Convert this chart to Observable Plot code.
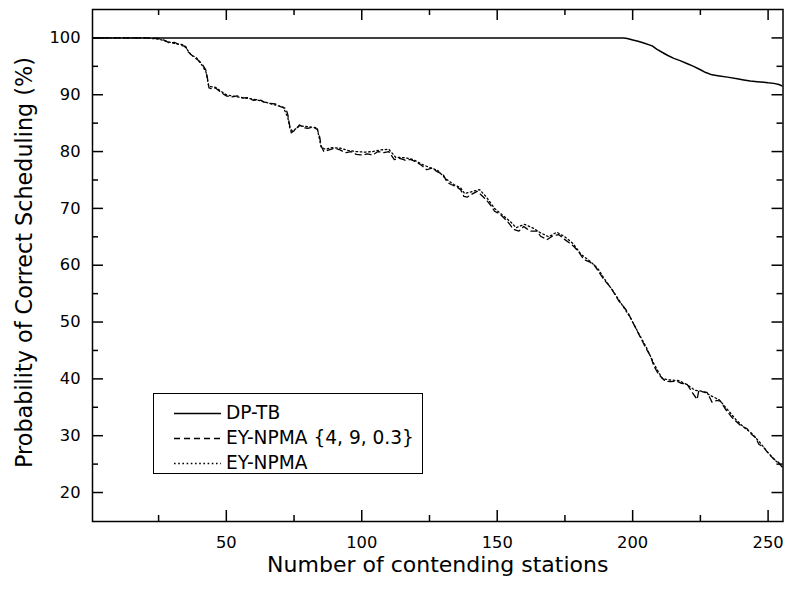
<!DOCTYPE html>
<html>
<head>
<meta charset="utf-8">
<script src="https://cdn.jsdelivr.net/npm/d3@7"></script>
<script src="https://cdn.jsdelivr.net/npm/@observablehq/plot@0.6"></script>
<style>
  html, body { margin: 0; padding: 0; background: #fff; }
  #wrap { position: relative; width: 787px; height: 590px; font-family: "DejaVu Sans", sans-serif; color: #000; }
  #legend { position: absolute; left: 153px; top: 393px; width: 270px; height: 81px; border: 1.2px solid #000; box-sizing: border-box; background: #fff; }
  .row { position: absolute; left: 0; height: 24px; width: 100%; }
  .row svg { position: absolute; left: 19px; top: 0; }
  .row span { position: absolute; left: 72px; top: 0; line-height: 24px; font-size: 18.6px; white-space: nowrap; }
</style>
</head>
<body>
<div id="wrap">
  <div id="chart"></div>
  <div id="legend"></div>
</div>
<script>
// ---- data ----
const dptbX = [1, 190, 196.7, 198, 200.4, 202, 204.1, 207.2, 209, 211.5, 213, 215.2, 217.5, 220, 222.5, 225, 227, 229.3, 232, 235, 238.6, 241, 243.4, 246, 248.4, 250, 252.1, 254, 255.5];
const dptbY = [100, 100, 100, 99.9, 99.6, 99.4, 99.1, 98.6, 98.0, 97.3, 96.9, 96.4, 96.0, 95.5, 95.0, 94.4, 93.9, 93.5, 93.3, 93.1, 92.8, 92.6, 92.4, 92.3, 92.2, 92.1, 92.0, 91.8, 91.5];

const eyParamX = [1, 10, 20, 25, 27, 29, 31, 33, 35, 36, 38, 39.5, 41, 42.5, 43, 43.6, 45, 46, 48, 50, 52, 54, 56, 58, 60, 62, 64, 66, 68, 70, 72, 72.7, 73.3, 74, 75.5, 77, 78.5, 80, 82, 83.6, 84.5, 85, 86, 88, 90, 92, 94, 96, 98, 100, 102, 104, 106, 108, 110, 112, 114, 116, 118, 120, 122, 124, 126, 128, 130, 131.5, 133, 135, 136.5, 137.7, 139, 141, 142.6, 144, 146, 148, 149, 151, 152.5, 154, 156, 158, 159.8, 161, 162.5, 164.8, 166, 168.4, 170.3, 172.7, 175, 177, 178.3, 180, 182, 184, 185.7, 187, 189.3, 191, 192.4, 194.9, 196.5, 198, 199.8, 201.7, 203.5, 205, 206.6, 207.8, 209.6, 212, 214, 216.4, 218, 220, 222, 223.8, 224.4, 226, 227.5, 229.3, 231, 232.4, 234.2, 236.7, 238, 239.8, 242.3, 244, 245.3, 246.6, 248.4, 250.2, 252.1, 253.9, 255.5];
const eyParamY = [100, 100, 100, 99.9, 99.6, 99.1, 99.2, 98.7, 98.5, 97.5, 96.6, 96.1, 95.5, 94.3, 93.0, 91.2, 91.0, 91.2, 90.4, 89.8, 89.6, 89.8, 89.4, 89.5, 89.0, 89.2, 88.7, 88.5, 88.4, 87.9, 87.6, 86.5, 84.8, 83.3, 83.8, 84.7, 84.2, 84.1, 84.3, 83.9, 82.5, 81.0, 80.0, 80.3, 80.6, 80.3, 79.8, 80.0, 79.5, 79.4, 79.6, 79.4, 80.0, 79.8, 80.0, 78.6, 78.8, 78.5, 78.6, 78.2, 77.6, 76.8, 77.1, 76.4, 76.0, 74.6, 74.2, 73.8, 73.3, 72.1, 72.0, 72.6, 73.0, 72.4, 71.5, 70.3, 69.5, 69.0, 68.3, 67.6, 66.3, 66.0, 66.8, 66.4, 66.0, 66.0, 65.1, 64.5, 65.1, 65.4, 64.5, 63.8, 63.3, 62.4, 61.0, 60.6, 60.1, 59.2, 57.5, 56.6, 55.7, 53.7, 52.8, 51.9, 50.2, 48.4, 46.7, 45.3, 44.0, 42.3, 40.8, 39.6, 39.5, 39.6, 39.2, 39.1, 37.6, 36.4, 37.9, 37.7, 37.6, 35.9, 36.2, 36.1, 34.7, 33.2, 32.6, 31.8, 31.2, 30.2, 29.7, 28.5, 27.9, 26.8, 25.9, 25.3, 24.2];

const eyX = [1, 20, 25, 28, 31, 34, 35.5, 37, 39, 41, 42.5, 43.5, 46, 48, 50, 53, 56, 59, 62, 65, 68, 71, 72.7, 73.5, 74.5, 77, 80, 83.5, 85, 86.5, 89, 92, 95, 98, 101, 104, 107, 110, 112.5, 116, 119, 122, 125, 128, 131, 134, 136.5, 138, 141, 143.5, 146, 149, 152, 155, 157, 160, 163, 166, 169, 172, 175, 178, 181, 184, 187, 190, 193, 196, 199, 202, 205, 208, 211, 214, 217, 220, 223, 226, 229, 232, 235, 238, 241, 244, 247, 250, 253, 255.5];
const eyY = [100, 100, 99.8, 99.4, 99.0, 98.8, 98.0, 97.0, 96.5, 95.2, 94.0, 91.5, 91.3, 90.6, 90.0, 89.7, 89.5, 89.3, 89.0, 88.6, 88.2, 87.8, 86.0, 84.0, 83.6, 84.5, 84.4, 84.2, 80.8, 80.4, 80.7, 80.6, 80.2, 80.0, 79.9, 80.0, 80.3, 80.4, 79.0, 78.9, 78.6, 77.8, 77.2, 76.7, 75.2, 74.2, 73.6, 72.6, 73.0, 73.3, 72.0, 70.0, 68.8, 67.6, 66.6, 67.2, 66.6, 65.7, 65.0, 65.8, 65.0, 63.8, 61.9, 60.8, 59.5, 57.3, 55.3, 53.1, 50.9, 48.2, 45.6, 42.5, 40.0, 39.8, 39.7, 39.0, 38.0, 37.8, 37.0, 36.3, 34.6, 32.9, 31.5, 30.4, 28.8, 27.0, 25.5, 24.5];

const seriesNames = ["DP-TB", "EY-NPMA {4, 9, 0.3}", "EY-NPMA"];
const xMajorTicks = [50, 100, 150, 200, 250];
const xMinorTicks = [25, 75, 125, 175, 225];
const yMajorTicks = [20, 30, 40, 50, 60, 70, 80, 90, 100];
const yMinorTicks = [25, 35, 45, 55, 65, 75, 85, 95];
const xTitle = "Number of contending stations";
const yTitle = "Probability of Correct Scheduling (%)";

// ---- build tables ----
const zip = (xs, ys) => xs.map((x, i) => ({x, y: ys[i]}));
const dptb = zip(dptbX, dptbY);
const eyParam = zip(eyParamX, eyParamY);
const ey = zip(eyX, eyY);

const styles = [
  {strokeDasharray: null, strokeWidth: 1.5},
  {strokeDasharray: "6,4", strokeWidth: 1.3},
  {strokeDasharray: "1.6,2.6", strokeWidth: 1.3}
];

const W = 787, H = 590, ML = 92, MR = 4.5, MT = 9, MB = 69;
const FW = W - ML - MR, FH = H - MT - MB;
const MAJ = 11, MIN = 6;
const tk = {stroke: "#000", strokeWidth: 1.5};
const chart = Plot.plot({
  width: W,
  height: H,
  marginLeft: ML,
  marginRight: MR,
  marginTop: MT,
  marginBottom: MB,
  x: {domain: [0.6, 255.5], label: null},
  y: {domain: [14.9, 105], label: null},
  style: {fontFamily: "DejaVu Sans, sans-serif", fontSize: "16.3px", color: "#000", background: "#fff", overflow: "visible"},
  marks: [
    Plot.line(dptb, {x: "x", y: "y", stroke: "#000", strokeWidth: styles[0].strokeWidth, clip: true}),
    Plot.line(eyParam, {x: "x", y: "y", stroke: "#000", strokeWidth: styles[1].strokeWidth, strokeDasharray: styles[1].strokeDasharray, clip: true}),
    Plot.line(ey, {x: "x", y: "y", stroke: "#000", strokeWidth: styles[2].strokeWidth, strokeDasharray: styles[2].strokeDasharray, clip: true}),
    // tick labels
    Plot.axisX(xMajorTicks, {anchor: "bottom", tickSize: 0, tickPadding: 15, label: null, fill: "#000"}),
    Plot.axisY(yMajorTicks, {anchor: "left", tickSize: 0, tickPadding: 12, label: null, fill: "#000"}),
    // inward ticks on all four sides (rules inset to tick length)
    Plot.ruleX(xMajorTicks, {x: d => d, ...tk, insetTop: FH - MAJ}),
    Plot.ruleX(xMinorTicks, {x: d => d, ...tk, insetTop: FH - MIN}),
    Plot.ruleX(xMajorTicks, {x: d => d, ...tk, insetBottom: FH - MAJ}),
    Plot.ruleX(xMinorTicks, {x: d => d, ...tk, insetBottom: FH - MIN}),
    Plot.ruleY(yMajorTicks, {y: d => d, ...tk, insetRight: FW - MAJ}),
    Plot.ruleY(yMinorTicks, {y: d => d, ...tk, insetRight: FW - MIN}),
    Plot.ruleY(yMajorTicks, {y: d => d, ...tk, insetLeft: FW - MAJ}),
    Plot.ruleY(yMinorTicks, {y: d => d, ...tk, insetLeft: FW - MIN}),
    Plot.frame({stroke: "#000", strokeWidth: 1.5}),
    // axis titles
    Plot.text([xTitle], {text: d => d, frameAnchor: "bottom", lineAnchor: "middle", dy: 43.5, fontSize: 22, fill: "#000"}),
    Plot.text([yTitle], {text: d => d, frameAnchor: "left", lineAnchor: "middle", textAnchor: "middle", rotate: -90, dx: -67.5, dy: -3, fontSize: 22.3, fill: "#000"})
  ]
});
document.getElementById("chart").appendChild(chart);

// ---- legend ----
const legend = document.getElementById("legend");
const rowTops = [6.5, 32, 56.5];
seriesNames.forEach((name, i) => {
  const row = document.createElement("div");
  row.className = "row";
  row.style.top = rowTops[i] + "px";
  const s = styles[i];
  row.innerHTML = `<svg width="50" height="24"><line x1="1" x2="48" y1="12.5" y2="12.5" stroke="#000" stroke-width="${s.strokeWidth}" ${s.strokeDasharray ? `stroke-dasharray="${s.strokeDasharray}"` : ""}/></svg><span>${name}</span>`;
  legend.appendChild(row);
});
</script>
</body>
</html>
